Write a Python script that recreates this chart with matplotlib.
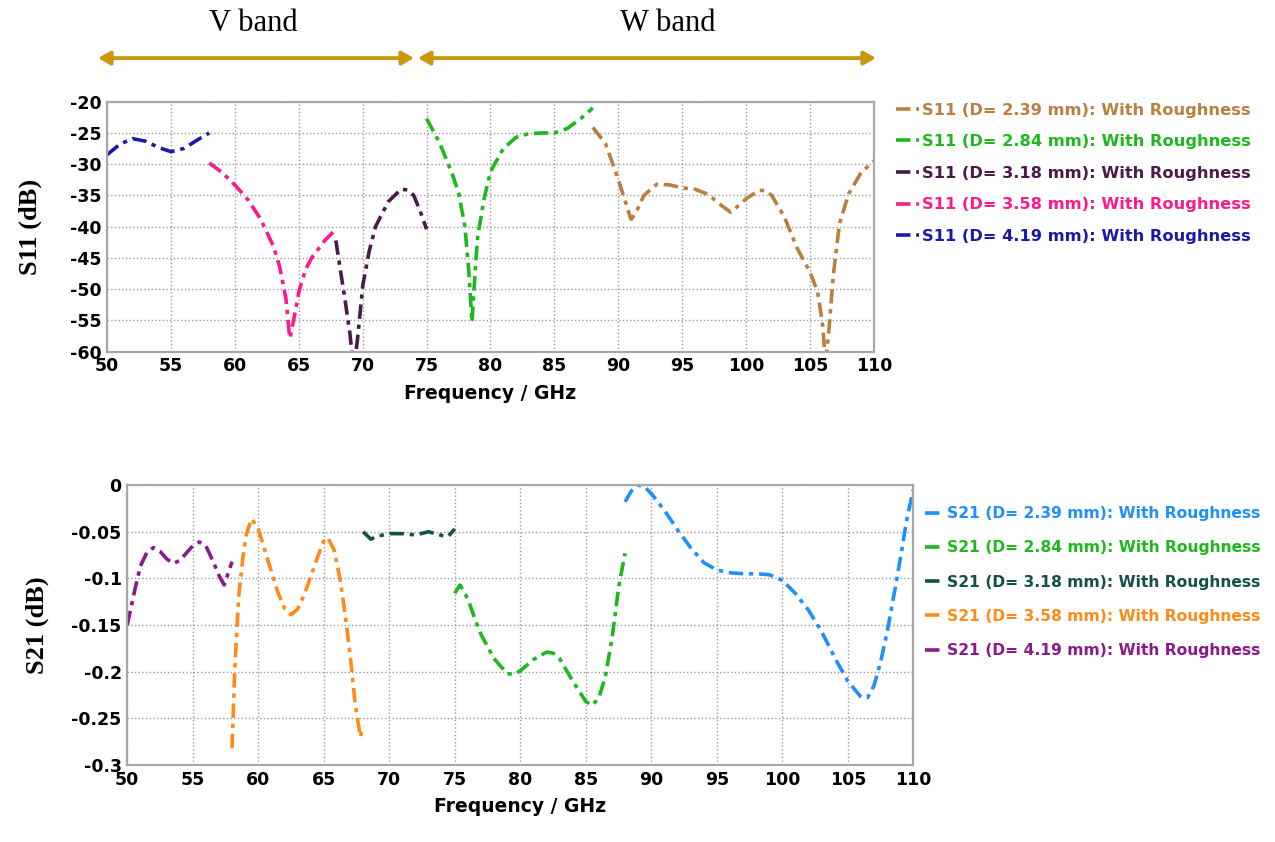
import numpy as np
import matplotlib
matplotlib.use("Agg")
import matplotlib.pyplot as plt

# S11 traces (GHz, dB)
s11_239_f = [88, 89, 90, 91, 91.5, 92, 93, 94, 95, 96, 97, 98, 98.8, 100, 101, 101.5, 102, 103, 104, 105, 105.6, 106, 106.2, 106.5, 106.8, 107.3, 108, 109, 110]
s11_239_v = [-24.1, -26.7, -32.5, -38.9, -37.2, -35, -33.2, -33.3, -33.8, -34.0, -34.8, -36.5, -37.7, -35.5, -34.2, -34.2, -35, -38.5, -43.5, -47.3, -50.5, -56, -62, -56, -48, -39.5, -34.8, -31.3, -29.5]
s11_284_f = [75, 76, 77, 77.5, 78, 78.3, 78.55, 78.8, 79, 79.5, 80, 81, 82, 83, 84, 85, 86, 87, 88]
s11_284_v = [-22.7, -26.5, -31.5, -34.5, -40, -47, -55.3, -47, -41.5, -35.5, -31.2, -27.5, -25.7, -25.1, -25.0, -25.0, -24.3, -22.8, -21.0]
s11_318_f = [67.9, 68.5, 69, 69.3, 69.6, 70, 70.5, 71, 72, 73, 73.5, 74, 74.5, 75]
s11_318_v = [-42.2, -50, -57, -63, -58, -49.5, -44, -40, -36, -34, -34.1, -35, -37.5, -40.4]
s11_358_f = [58, 59, 60, 61, 62, 63, 63.5, 64, 64.3, 64.7, 65, 65.5, 66, 67, 68]
s11_358_v = [-29.8, -31.3, -33.3, -35.6, -38.7, -43.0, -46.3, -51.5, -58.0, -54, -50.5, -47, -45, -42.3, -40.2]
s11_419_f = [50, 51, 52, 53, 54, 55, 56, 57, 58]
s11_419_v = [-28.5, -26.8, -25.9, -26.3, -27.3, -28.0, -27.5, -26.2, -25.0]

# S21 traces (GHz, dB)
s21_239_f = [88, 88.5, 89, 89.5, 90, 91, 92, 93, 94, 95, 96, 97, 98, 99, 100, 101, 102, 103, 104, 105, 106, 106.5, 107, 107.5, 108, 108.5, 109, 109.5, 110]
s21_239_v = [-0.018, -0.006, 0.0, -0.002, -0.009, -0.027, -0.048, -0.067, -0.083, -0.091, -0.094, -0.095, -0.095, -0.096, -0.102, -0.116, -0.134, -0.157, -0.185, -0.21, -0.227, -0.228, -0.215, -0.19, -0.158, -0.12, -0.08, -0.037, -0.005]
s21_284_f = [75, 75.4, 76, 76.5, 77, 78, 79, 79.5, 80, 81, 82, 82.5, 83, 84, 85, 85.5, 86, 86.5, 87, 87.5, 88]
s21_284_v = [-0.116, -0.107, -0.122, -0.142, -0.16, -0.186, -0.202, -0.203, -0.199, -0.187, -0.179, -0.18, -0.186, -0.21, -0.232, -0.236, -0.228, -0.205, -0.165, -0.11, -0.073]
s21_318_f = [68, 68.6, 69, 70, 71, 72, 73, 74, 74.5, 75]
s21_318_v = [-0.05, -0.058, -0.055, -0.052, -0.052, -0.0535, -0.05, -0.054, -0.055, -0.047]
s21_358_f = [58.0, 58.2, 58.5, 58.8, 59.1, 59.5, 60, 60.5, 61, 61.5, 62, 62.5, 63, 63.5, 64, 64.5, 65, 65.3, 65.8, 66.2, 66.6, 67, 67.4, 67.8, 68]
s21_358_v = [-0.282, -0.2, -0.12, -0.08, -0.052, -0.036, -0.047, -0.07, -0.093, -0.115, -0.132, -0.139, -0.133, -0.118, -0.098, -0.078, -0.06, -0.056, -0.07, -0.097, -0.135, -0.18, -0.235, -0.27, -0.258]
s21_419_f = [50, 50.5, 51, 51.5, 52, 52.5, 53, 53.5, 54, 55, 55.5, 56, 56.5, 57, 57.4, 58]
s21_419_v = [-0.15, -0.117, -0.087, -0.072, -0.067, -0.071, -0.079, -0.084, -0.081, -0.065, -0.061, -0.065, -0.08, -0.097, -0.107, -0.082]

diameters = ["2.39", "2.84", "3.18", "3.58", "4.19"]
s11_colors = ["#B8803E", "#1DB81D", "#4A1A4A", "#FF1A8C", "#1A1AA6"]
s21_colors = ["#1E8FFF", "#1DB81D", "#14504A", "#FF8A1A", "#8A1A8A"]

dashdot = (0, (4, 1.6, 1.2, 1.6))


def smooth(f, v):
    # dense piecewise-linear resampling so the dash pattern runs evenly
    fx = np.linspace(f[0], f[-1], 400)
    return fx, np.interp(fx, f, v)


def style_axes(ax, yticks, ylabels):
    ax.set_xlim(50, 110)
    ax.set_xticks(range(50, 111, 5))
    ax.set_yticks(yticks)
    ax.set_yticklabels(ylabels)
    ax.grid(True, linestyle=":", color="#9a9a9a", linewidth=1.0)
    ax.tick_params(length=0, pad=4, labelsize=12.5)
    for lab in ax.get_xticklabels() + ax.get_yticklabels():
        lab.set_fontweight("bold")
    for sp in ax.spines.values():
        sp.set_color("#a8a8a8")
        sp.set_linewidth(1.6)
    ax.set_xlabel("Frequency / GHz", fontsize=13.5, fontweight="bold", labelpad=6)


fig = plt.figure(figsize=(12.75, 8.42), dpi=100)

# --- S11 panel ---
ax1 = fig.add_axes([0.0839, 0.5823, 0.6016, 0.2969])
s11 = [(s11_239_f, s11_239_v), (s11_284_f, s11_284_v), (s11_318_f, s11_318_v),
       (s11_358_f, s11_358_v), (s11_419_f, s11_419_v)]
for (f, v), c, d in zip(s11, s11_colors, diameters):
    fx, vx = smooth(f, v)
    ax1.plot(fx, vx, color=c, lw=2.6, linestyle=dashdot,
             label="S11 (D= %s mm): With Roughness" % d)
ax1.set_ylim(-60, -20)
style_axes(ax1, range(-60, -19, 5), [str(t) for t in range(-60, -19, 5)])
ax1.set_ylabel("S11 (dB)", fontsize=19, fontweight="bold", family="Liberation Serif", labelpad=20)
leg1 = ax1.legend(loc="upper left", bbox_to_anchor=(1.01, 1.055), frameon=False,
                  handlelength=1.4, handletextpad=0.2, labelspacing=1.02,
                  prop={"weight": "bold", "size": 11.7}, labelcolor="linecolor")

# --- S21 panel ---
ax2 = fig.add_axes([0.0998, 0.0914, 0.6165, 0.3325])
s21 = [(s21_239_f, s21_239_v), (s21_284_f, s21_284_v), (s21_318_f, s21_318_v),
       (s21_358_f, s21_358_v), (s21_419_f, s21_419_v)]
for (f, v), c, d in zip(s21, s21_colors, diameters):
    fx, vx = smooth(f, v)
    ax2.plot(fx, vx, color=c, lw=2.6, linestyle=dashdot,
             label="S21 (D= %s mm): With Roughness" % d)
ax2.set_ylim(-0.3, 0)
y21 = [-0.3, -0.25, -0.2, -0.15, -0.1, -0.05, 0]
style_axes(ax2, y21, ["-0.3", "-0.25", "-0.2", "-0.15", "-0.1", "-0.05", "0"])
ax2.set_ylabel("S21 (dB)", fontsize=19, fontweight="bold", family="Liberation Serif", labelpad=16)
leg2 = ax2.legend(loc="upper left", bbox_to_anchor=(0.997, 0.975), frameon=False,
                  handlelength=1.0, handletextpad=0.4, labelspacing=1.24,
                  prop={"weight": "bold", "size": 11.2}, labelcolor="linecolor")

# --- band arrows ---
gold = "#C9960C"
for x0, x1 in [(0.0769, 0.3247), (0.3278, 0.687)]:
    fig.add_artist(matplotlib.patches.FancyArrowPatch(
        (x0, 0.931), (x1, 0.931), transform=fig.transFigure,
        arrowstyle="<|-|>,head_length=7,head_width=4", color=gold, lw=2.8,
        shrinkA=0, shrinkB=0))
fig.text(0.199, 0.972, "V band", ha="center", va="center", fontsize=22, family="Liberation Serif")
fig.text(0.524, 0.972, "W band", ha="center", va="center", fontsize=22, family="Liberation Serif")

fig.savefig("out.png", dpi=100)
